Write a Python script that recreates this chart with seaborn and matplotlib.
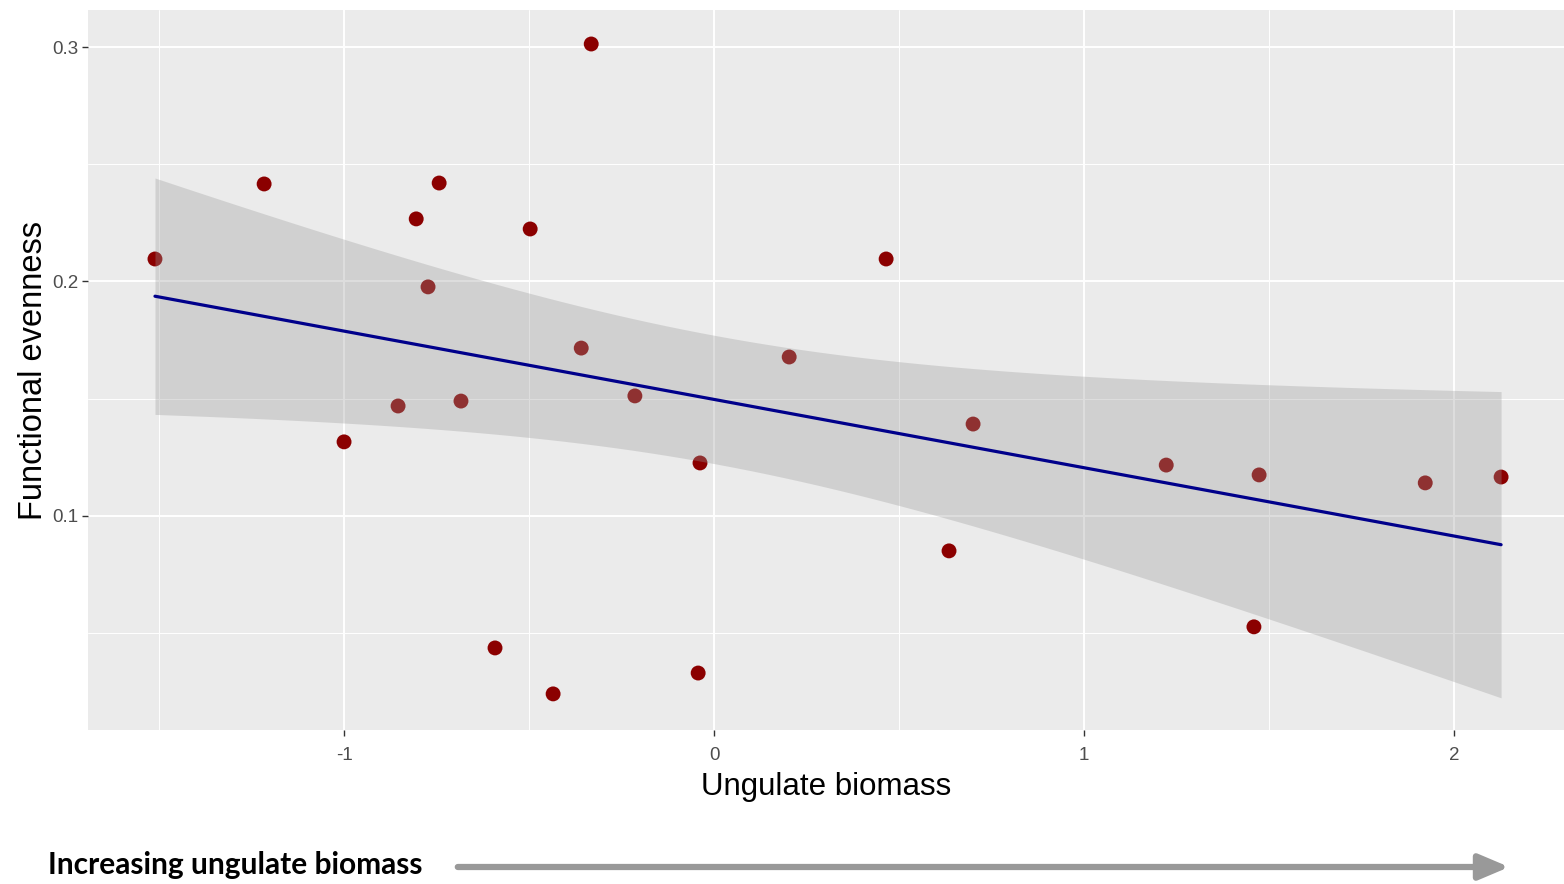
import numpy as np
import pandas as pd
import matplotlib
matplotlib.use("Agg")
import matplotlib.pyplot as plt
from matplotlib.ticker import MultipleLocator
import seaborn as sns

# Data
ungulate_biomass = [-1.511, -1.216, -1.000, -0.854, -0.805, -0.773, -0.743, -0.684,
                    -0.592, -0.497, -0.435, -0.359, -0.332, -0.214, -0.043, -0.038,
                    0.203, 0.465, 0.635, 0.700, 1.222, 1.459, 1.473, 1.922, 2.127]
functional_evenness = [0.2096, 0.2416, 0.1316, 0.1469, 0.2267, 0.1977, 0.2420, 0.1490,
                       0.0437, 0.2224, 0.0241, 0.1716, 0.3013, 0.1512, 0.0330, 0.1226,
                       0.1678, 0.2096, 0.0851, 0.1392, 0.1217, 0.0527, 0.1175, 0.1141, 0.1166]
x_ticks = [-1, 0, 1, 2]
y_ticks = [0.1, 0.2, 0.3]
x_label = "Ungulate biomass"
y_label = "Functional evenness"
footer_text = "Increasing ungulate biomass"

df = pd.DataFrame({"x": ungulate_biomass, "y": functional_evenness})

sns.set_theme(style="white")
plt.rcParams["font.family"] = ["Liberation Sans", "DejaVu Sans"]

fig = plt.figure(figsize=(15.64, 8.84), dpi=100)
ax = fig.add_axes([88 / 1564, 1 - 730 / 884, 1 - 88 / 1564, 720 / 884])
ax.set_facecolor("#EBEBEB")
for s in ax.spines.values():
    s.set_visible(False)

# points first (band drawn on top like ggplot)
sns.scatterplot(data=df, x="x", y="y", ax=ax, color="#8B0000", s=115,
                edgecolor="none", zorder=3)

# analytic 95% confidence band of the linear fit (as ggplot's geom_smooth)
xv = df["x"].to_numpy()
yv = df["y"].to_numpy()
n = len(xv)
b1, b0 = np.polyfit(xv, yv, 1)
resid = yv - (b0 + b1 * xv)
s_err = np.sqrt(np.sum(resid ** 2) / (n - 2))
sxx = np.sum((xv - xv.mean()) ** 2)
t_crit = 2.0687  # t(0.975, df=23)
xg = np.linspace(xv.min(), xv.max(), 80)
yg = b0 + b1 * xg
half = t_crit * s_err * np.sqrt(1 / n + (xg - xv.mean()) ** 2 / sxx)
ax.fill_between(xg, yg - half, yg + half, color="#999999", alpha=0.32,
                linewidth=0, zorder=4)

sns.regplot(data=df, x="x", y="y", ax=ax, scatter=False, ci=None,
            color="#00008B", line_kws={"linewidth": 2.3, "zorder": 5})

ax.set_xlim(-1.692, 2.297)
ax.set_ylim(0.0087, 0.3158)
ax.set_xticks(x_ticks)
ax.set_yticks(y_ticks)
ax.set_xticklabels([str(t) for t in x_ticks])
ax.set_yticklabels([f"{t:.1f}" for t in y_ticks])
ax.xaxis.set_minor_locator(MultipleLocator(0.5))
ax.yaxis.set_minor_locator(MultipleLocator(0.05))
ax.grid(which="major", color="white", linewidth=1.4, zorder=0)
ax.grid(which="minor", color="white", linewidth=0.7, zorder=0)
ax.set_axisbelow(True)
ax.tick_params(axis="both", which="major", length=4, width=1, color="#333333",
               labelsize=13.5, labelcolor="#4D4D4D", bottom=True, left=True)
ax.tick_params(axis="x", pad=8)
ax.tick_params(axis="y", pad=3)
ax.tick_params(which="minor", length=0)

ax.set_xlabel(x_label, fontsize=22.5, color="black", labelpad=6)
ax.set_ylabel(y_label, fontsize=23.5, color="black", labelpad=2)

fig.text(48 / 1564, 1 - 865 / 884, footer_text, fontsize=21.5, fontweight="bold",
         family=["Lato", "DejaVu Sans"], ha="left", va="center", color="black")
fig.add_artist(matplotlib.patches.FancyArrowPatch(
    (455 / 1564, 1 - 867 / 884), (1512 / 1564, 1 - 867 / 884),
    transform=fig.transFigure, arrowstyle="-|>,head_length=1.3,head_width=0.55",
    mutation_scale=14, color="#999999", linewidth=4.5))

fig.savefig("out.png", dpi=100)
